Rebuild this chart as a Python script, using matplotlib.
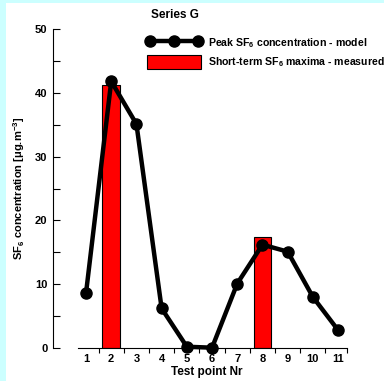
import matplotlib
matplotlib.use("Agg")
import matplotlib.pyplot as plt
from matplotlib import font_manager
from matplotlib.patches import Rectangle, Patch
from matplotlib.lines import Line2D

plt.rcParams['font.family'] = ['Liberation Sans', 'DejaVu Sans']
plt.rcParams['font.weight'] = 'bold'
plt.rcParams['mathtext.fontset'] = 'custom'
plt.rcParams['mathtext.rm'] = 'Liberation Sans:bold'
plt.rcParams['mathtext.bf'] = 'Liberation Sans:bold'
plt.rcParams['mathtext.it'] = 'Liberation Sans:bold'
plt.rcParams['mathtext.default'] = 'bf'

# ---- data ----
test_points = [1, 2, 3, 4, 5, 6, 7, 8, 9, 10, 11]
model_peak = [8.6, 41.8, 35.1, 6.2, 0.2, 0.05, 10.1, 16.2, 15.1, 8.0, 2.8]
measured_points = [2, 8]
measured_maxima = [41.3, 17.4]
x_tick_labels = [str(v) for v in test_points]
y_ticks = [0, 10, 20, 30, 40, 50]

names = {f.name for f in font_manager.fontManager.ttflist}
if 'Liberation Sans Narrow' in names:
    leg_prop = {'family': ['Liberation Sans Narrow', 'DejaVu Sans'], 'size': 8.8, 'weight': 'bold'}
else:
    leg_prop = {'size': 7.6, 'weight': 'bold'}

W, H = 384, 381
fig = plt.figure(figsize=(W / 100, H / 100), dpi=100)
fig.patch.set_facecolor('white')
# light cyan frame on left and top
fig.patches.append(Rectangle((0, 0), 6 / W, 1, transform=fig.transFigure,
                             facecolor='#ccffff', edgecolor='none', zorder=-10))
fig.patches.append(Rectangle((0, 1 - 3 / H), 1, 3 / H, transform=fig.transFigure,
                             facecolor='#ccffff', edgecolor='none', zorder=-10))

left_px, right_px, top_px, bot_px = 53, 360, 29, 348
ax = fig.add_axes([left_px / W, 1 - bot_px / H, (right_px - left_px) / W, (bot_px - top_px) / H])
ax.set_facecolor('none')

ax.bar(measured_points, measured_maxima, width=0.7, color='#ff0000',
       edgecolor='black', linewidth=0.8, zorder=2)
ax.plot(test_points, model_peak, color='black', linewidth=3.2, marker='o',
        markersize=8, zorder=3, clip_on=False)

ax.set_xlim(-0.31, 11.87)
ax.set_ylim(0, 50)

for s in ['top', 'right']:
    ax.spines[s].set_visible(False)
ax.spines['bottom'].set_bounds(0.68, 11.36)
ax.spines['left'].set_bounds(0, 50)
for s in ['bottom', 'left']:
    ax.spines[s].set_linewidth(0.8)

ax.set_xticks(test_points)
ax.set_xticklabels(x_tick_labels)
ax.set_xticks([v + 0.5 for v in test_points[:-1]] + [11.36], minor=True)
ax.tick_params(axis='x', which='major', length=0, pad=4.5, labelsize=8)
ax.tick_params(axis='x', which='minor', length=3.5, direction='out', width=0.8)

ax.set_yticks(y_ticks)
ax.set_yticks([5, 15, 25, 35, 45], minor=True)
ax.tick_params(axis='y', which='both', direction='in', length=5, width=0.8, labelsize=8, pad=4)

ax.set_xlabel('Test point Nr', fontsize=8.5, fontweight='bold', labelpad=1)
ax.set_ylabel(r'SF$_{6}$ concentration [μg.m$^{-3}$]', fontsize=8, fontweight='bold')
ax.yaxis.set_label_coords(-0.085, 0.5)

fig.text(175 / W, 1 - 15 / H, 'Series G', ha='center', va='center', fontsize=8.5, fontweight='bold')

h1 = Line2D([], [], color='black', linewidth=3.2, marker='o', markersize=8)
h2 = Patch(facecolor='#ff0000', edgecolor='black', linewidth=0.8)
fs_px = leg_prop['size'] * 100 / 72
ax.legend([h1, h2],
          [r'Peak SF$_{6}$ concentration - model', r'Short-term SF$_{6}$ maxima - measured'],
          loc='upper left', bbox_to_anchor=(147 / W, 1 - 36 / H), bbox_transform=fig.transFigure,
          frameon=False, numpoints=3, handlelength=54 / fs_px, handleheight=17 / fs_px,
          handletextpad=7 / fs_px, labelspacing=5 / fs_px, borderpad=0, borderaxespad=0,
          prop=leg_prop)

fig.savefig('out.png', dpi=100)
